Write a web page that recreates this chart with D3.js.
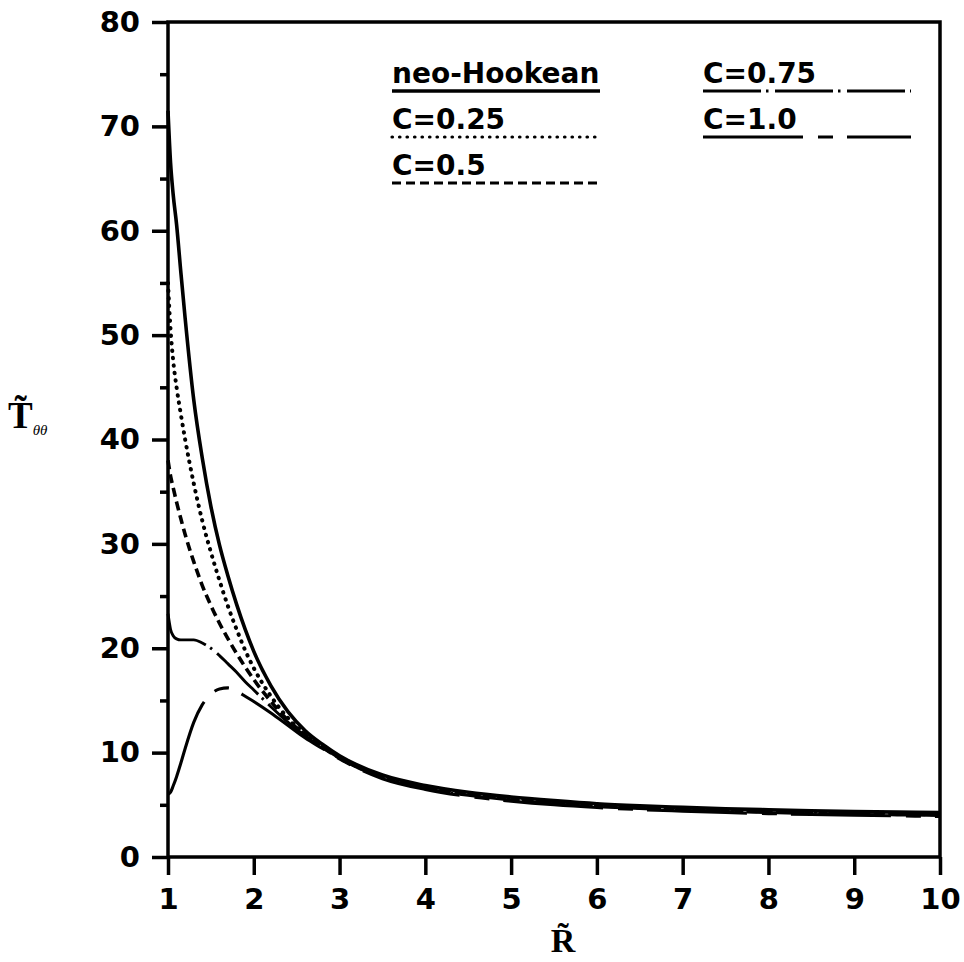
<!DOCTYPE html>
<html>
<head>
<meta charset="utf-8">
<script src="https://cdn.jsdelivr.net/npm/d3@7"></script>
<style>
  body { margin: 0; background: #fff; }
  svg { display: block; }
</style>
</head>
<body>
<svg id="drawing_region"></svg>
<script>
// R~ sample points shared by every curve
const r_values = [1.0, 1.03, 1.06, 1.1, 1.15, 1.2, 1.3, 1.4, 1.5, 1.6, 1.7, 1.8, 1.9, 2.0,
                  2.2, 2.4, 2.6, 2.8, 3.0, 3.5, 4, 4.5, 5, 5.5, 6, 6.5, 7, 7.5, 8, 8.5, 9, 9.5, 10];

const neo_hookean = [71.5, 66.5, 63.5, 60.6, 56.0, 51.6, 43.8, 38.2, 33.6, 29.9, 26.9, 24.2, 21.8, 19.7,
                     16.4, 13.9, 12.1, 10.8, 9.7, 7.85, 6.85, 6.2, 5.75, 5.4, 5.1, 4.9, 4.75, 4.62, 4.52, 4.43, 4.36, 4.3, 4.25];
const c_025 = [55.0, 50.5, 47.6, 45.0, 42.4, 40.0, 35.8, 32.2, 29.2, 26.5, 24.0, 21.8, 19.8, 18.1,
               15.4, 13.3, 11.8, 10.6, 9.6, 7.75, 6.75, 6.1, 5.65, 5.3, 5.01, 4.81, 4.66, 4.53, 4.43, 4.34, 4.27, 4.21, 4.16];
const c_050 = [38.0, 36.5, 35.4, 34.0, 32.4, 30.9, 28.3, 26.0, 24.1, 22.4, 20.9, 19.5, 18.2, 17.0,
               14.9, 13.1, 11.7, 10.5, 9.5, 7.65, 6.65, 6.0, 5.55, 5.2, 4.92, 4.72, 4.57, 4.44, 4.34, 4.25, 4.18, 4.12, 4.07];
const c_075 = [23.3, 21.8, 21.2, 20.9, 20.8, 20.8, 20.8, 20.5, 20.0, 19.3, 18.5, 17.7, 16.8, 16.0,
               14.4, 12.9, 11.6, 10.5, 9.45, 7.58, 6.56, 5.9, 5.45, 5.1, 4.83, 4.63, 4.48, 4.35, 4.25, 4.16, 4.09, 4.03, 3.98];
const c_100 = [6.0, 6.2, 6.8, 7.7, 9.0, 10.4, 12.9, 14.6, 15.6, 16.1, 16.2, 15.9, 15.4, 14.9,
               13.8, 12.6, 11.4, 10.4, 9.4, 7.5, 6.47, 5.8, 5.35, 5.0, 4.74, 4.54, 4.39, 4.26, 4.16, 4.07, 4.0, 3.94, 3.89];

const series_names = ['neo-Hookean', 'C=0.25', 'C=0.5', 'C=0.75', 'C=1.0'];
const series_values = [neo_hookean, c_025, c_050, c_075, c_100];

const x_ticks = [1, 2, 3, 4, 5, 6, 7, 8, 9, 10];
const y_ticks = [0, 10, 20, 30, 40, 50, 60, 70, 80];
const y_minor_ticks = [5, 15, 25, 35, 45, 55, 65, 75];

var config = {
    parent: '#drawing_region',
    width: 964,
    height: 962,
    plot: {left: 168, right: 940, top: 22, bottom: 857}
};

class StressChart {
    constructor(config) {
        this.config = config;
        this.data = series_names.map((name, i) => ({
            name: name,
            points: r_values.map((r, j) => ({r: r, t: series_values[i][j]}))
        }));
        this.init();
    }

    init() {
        let self = this;
        const p = self.config.plot;

        self.svg = d3.select(self.config.parent)
            .attr('width', self.config.width)
            .attr('height', self.config.height);

        self.xscale = d3.scaleLinear().domain([1, 10]).range([p.left, p.right]);
        self.yscale = d3.scaleLinear().domain([0, 80]).range([p.bottom, p.top]);

        // dash pattern + width per series, same order as series_names
        self.styles = [
            {dash: null, width: 3.6, cap: 'butt'},
            {dash: '0.5,7', width: 4, cap: 'round'},
            {dash: '9,5', width: 3.6, cap: 'butt'},
            {dash: '58,5,2.5,6.5', width: 2.9, cap: 'butt'},
            {dash: '100,15,15,14', width: 3.1, cap: 'butt'}
        ];

        self.line = d3.line()
            .x(d => self.xscale(d.r))
            .y(d => self.yscale(d.t))
            .curve(d3.curveMonotoneX);
    }

    render() {
        let self = this;
        const p = self.config.plot;
        const font = '"DejaVu Sans", sans-serif';

        // x axis
        const xaxis = d3.axisBottom(self.xscale)
            .tickValues(x_ticks)
            .tickSize(18)
            .tickPadding(13)
            .tickFormat(d3.format('d'));
        const xg = self.svg.append('g')
            .attr('transform', `translate(0, ${p.bottom})`)
            .call(xaxis);
        xg.select('.domain').remove();

        // y axis, major + minor
        const yaxis = d3.axisLeft(self.yscale)
            .tickValues(y_ticks)
            .tickSize(16)
            .tickPadding(12);
        const yg = self.svg.append('g')
            .attr('transform', `translate(${p.left}, 0)`)
            .call(yaxis);
        yg.select('.domain').remove();

        const yminor = d3.axisLeft(self.yscale)
            .tickValues(y_minor_ticks)
            .tickSize(8)
            .tickFormat('');
        const ymg = self.svg.append('g')
            .attr('transform', `translate(${p.left}, 0)`)
            .call(yminor);
        ymg.select('.domain').remove();

        [xg, yg, ymg].forEach(g => {
            g.selectAll('line').attr('stroke', '#000').attr('stroke-width', 3.5);
            g.selectAll('text')
                .attr('fill', '#000')
                .style('font-family', font)
                .style('font-weight', 'bold')
                .style('font-size', '29px');
        });

        // frame
        self.svg.append('rect')
            .attr('x', p.left)
            .attr('y', p.top)
            .attr('width', p.right - p.left)
            .attr('height', p.bottom - p.top)
            .attr('fill', 'none')
            .attr('stroke', '#000')
            .attr('stroke-width', 3.5);

        // curves
        self.svg.append('g')
            .selectAll('path')
            .data(self.data)
            .join('path')
            .attr('d', d => self.line(d.points))
            .attr('fill', 'none')
            .attr('stroke', '#000')
            .attr('stroke-width', (d, i) => self.styles[i].width)
            .attr('stroke-linecap', (d, i) => self.styles[i].cap)
            .attr('stroke-dasharray', (d, i) => self.styles[i].dash);

        // legend: two columns, label with its line style underneath
        const legend_pos = [
            {x: 392, y: 83}, {x: 392, y: 129}, {x: 392, y: 175},
            {x: 703, y: 83}, {x: 703, y: 129}
        ];
        const legend = self.svg.append('g')
            .selectAll('g')
            .data(self.data)
            .join('g')
            .attr('transform', (d, i) => `translate(${legend_pos[i].x}, ${legend_pos[i].y})`);

        legend.append('text')
            .text(d => d.name)
            .style('font-family', font)
            .style('font-weight', 'bold')
            .style('font-size', '28px');

        legend.append('line')
            .attr('x1', 0)
            .attr('x2', 208)
            .attr('y1', 8)
            .attr('y2', 8)
            .attr('stroke', '#000')
            .attr('stroke-width', (d, i) => i == 0 ? 3.5 : 3.2)
            .attr('stroke-linecap', (d, i) => self.styles[i].cap)
            .attr('stroke-dasharray', (d, i) => self.styles[i].dash);

        // axis titles (serif, combining tilde on top)
        const serif = '"Liberation Serif", "DejaVu Serif", serif';
        self.svg.append('text')
            .attr('x', 563).attr('y', 952)
            .attr('text-anchor', 'middle')
            .style('font-family', serif).style('font-weight', 'bold').style('font-size', '34px')
            .text('R\u0303');

        const ytitle = self.svg.append('text')
            .attr('x', 8).attr('y', 428)
            .style('font-family', serif).style('font-weight', 'bold').style('font-size', '37px')
            .text('T\u0303');
        ytitle.append('tspan')
            .attr('dy', 7)
            .style('font-style', 'italic').style('font-weight', 'normal').style('font-size', '15px')
            .text('θθ');
    }
}

const chart = new StressChart(config);
chart.render();
</script>
</body>
</html>
